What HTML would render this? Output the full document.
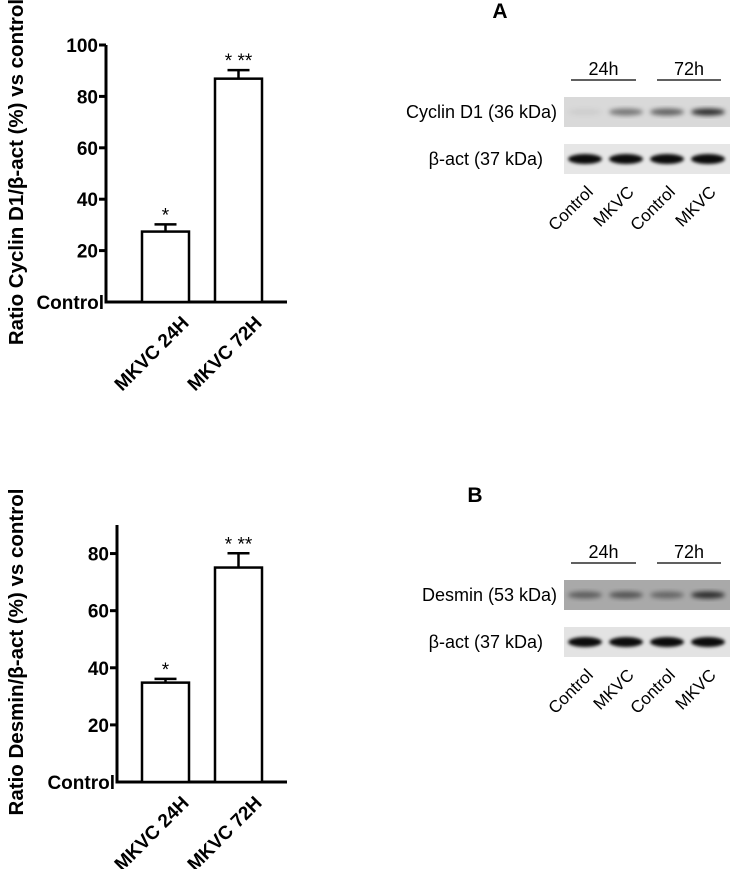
<!DOCTYPE html>
<html><head><meta charset="utf-8"><style>
html,body{margin:0;padding:0;background:#fff;width:733px;height:869px;overflow:hidden}
svg{display:block}
</style></head><body>
<svg id="fig" width="733" height="869" viewBox="0 0 733 869" xmlns="http://www.w3.org/2000/svg" font-family="Liberation Sans, Arial, sans-serif">
<defs>
<filter id="blur" x="-20%" y="-50%" width="140%" height="200%"><feGaussianBlur stdDeviation="1.6"/></filter>
<filter id="blur2" x="-20%" y="-50%" width="140%" height="200%"><feGaussianBlur stdDeviation="2.5"/></filter>
</defs>
<g id="chartA"></g>
<g id="chartB"></g>
<g id="blots"></g>
</svg>
<script>
const NS='http://www.w3.org/2000/svg';
const categories=['MKVC 24H','MKVC 72H'];
const cyclinValues=[27.4,86.9];
const cyclinErrors=[2.8,3.3];
const cyclinTicks=[20,40,60,80,100];
const cyclinStars=['*','* **'];
const desminValues=[34.8,75.1];
const desminErrors=[1.3,5.0];
const desminTicks=[20,40,60,80];
const desminStars=['*','* **'];
const laneLabels=['Control','MKVC','Control','MKVC'];
const timeLabels=['24h','72h'];

function el(tag,attrs,parent,text){const e=document.createElementNS(NS,tag);for(const k in attrs)e.setAttribute(k,attrs[k]);if(text!==undefined)e.textContent=text;parent.appendChild(e);return e;}

function drawChart(g,cfg){
  const y=v=>cfg.y0-(v/cfg.ymax)*(cfg.y0-cfg.yTop);
  const ax=cfg.axisX;
  const ya=el('line',{x1:ax,y1:cfg.yTop,x2:ax,y2:cfg.y0+1.5,stroke:'#000','stroke-width':3},g);
  
  const xa=el('line',{x1:ax-1.5,y1:cfg.y0,x2:287,y2:cfg.y0,stroke:'#000','stroke-width':3},g);
  
  cfg.ticks.forEach(t=>{
    const tk=el('line',{x1:ax-7,y1:y(t),x2:ax,y2:y(t),stroke:'#000','stroke-width':3},g);
    
    const tl=el('text',{x:ax-8,y:y(t)+7,'text-anchor':'end','font-size':19,'font-weight':'bold'},g,String(t));
    
  });
  const c=el('text',{x:ax-2,y:cfg.y0+7,'text-anchor':'end','font-size':19,'font-weight':'bold'},g,'Control');
  
  const bx=[142,215],bw=47;
  categories.forEach((cat,i)=>{
    const v=cfg.values[i],e=cfg.errors[i],x0=bx[i],cx=x0+bw/2;
    const eb=el('line',{x1:cx,y1:y(v+e),x2:cx,y2:y(v),stroke:'#000','stroke-width':2.5},g);
    
    const ec=el('line',{x1:cx-11,y1:y(v+e),x2:cx+11,y2:y(v+e),stroke:'#000','stroke-width':2.5},g);
    
    const r=el('rect',{x:x0,y:y(v),width:bw,height:cfg.y0-y(v),fill:'#fff',stroke:'#000','stroke-width':2.5},g);
    
    const s=el('text',{x:cx,y:y(v+e)-3,'text-anchor':'middle','font-size':19},g,cfg.stars[i]);
    
    const xl=el('text',{x:0,y:0,'text-anchor':'end','font-size':19,'font-weight':'bold',transform:`translate(${x0+bw+1},${cfg.y0+22}) rotate(-45)`},g,cat);
    
  });
  const tt=el('text',{x:0,y:0,'text-anchor':'middle','font-size':20.5,'font-weight':'bold',transform:`translate(23,${cfg.titleY}) rotate(-90)`},g,cfg.title);
  
}
drawChart(document.getElementById('chartA'),{values:cyclinValues,errors:cyclinErrors,ticks:cyclinTicks,stars:cyclinStars,ymax:100,yTop:45,y0:302,axisX:106,titleY:172,title:'Ratio Cyclin D1/β-act (%) vs control'});
drawChart(document.getElementById('chartB'),{values:desminValues,errors:desminErrors,ticks:desminTicks,stars:desminStars,ymax:90,yTop:525,y0:782,axisX:117,titleY:652,title:'Ratio Desmin/β-act (%) vs control'});

// blots
const blots=document.getElementById('blots');
const cyclinIntensity=[0.05,0.45,0.55,0.8];
const actinIntensity=[1,1,1,1];
const desminIntensity=[0.45,0.5,0.4,0.75];
const lanesX=[585,626,667,708];
function panel(letter,ly,topY,bandNames,intens,bgs,labelY){
  const L=el('text',{x:ly[0],y:ly[1],'text-anchor':'middle','font-size':21,'font-weight':'bold'},blots,letter);
  
  timeLabels.forEach((t,i)=>{
    const x1=i?657:571,x2=i?721:636;
    const ln=el('line',{x1:x1,y1:topY,x2:x2,y2:topY,stroke:'#000','stroke-width':1.3},blots);
    
    const tx=el('text',{x:(x1+x2)/2,y:topY-5,'text-anchor':'middle','font-size':18},blots,t);
    
  });
  bandNames.forEach((nm,r)=>{
    const sy=topY+(r?64:17),sh=30;
    const st=el('rect',{x:564,y:sy,width:166,height:sh,fill:bgs[r]},blots);
    
    intens[r].forEach((v,i)=>{
      const b=el('ellipse',{cx:lanesX[i],cy:sy+sh/2,rx:17,ry:r?5:3.5,fill:'#000','fill-opacity':r?0.95:v,filter:r?'url(#blur)':'url(#blur2)'},blots);
      
    });
    const tl=el('text',{x:r?543:557,y:sy+sh/2+6,'text-anchor':'end','font-size':18},blots,nm);
    
  });
  laneLabels.forEach((t,i)=>{
    const lx=el('text',{x:0,y:0,'text-anchor':'end','font-size':17,transform:`translate(${lanesX[i]+9},${labelY}) rotate(-45)`},blots,t);
    
  });
}
panel('A',[500,18],80,['Cyclin D1 (36 kDa)','β-act (37 kDa)'],[cyclinIntensity,actinIntensity],['#d9d9d9','#e6e6e6'],193);
panel('B',[475,502],563,['Desmin (53 kDa)','β-act (37 kDa)'],[desminIntensity,actinIntensity],['#a9a9a9','#e3e3e3'],676);
</script>
</body></html>
